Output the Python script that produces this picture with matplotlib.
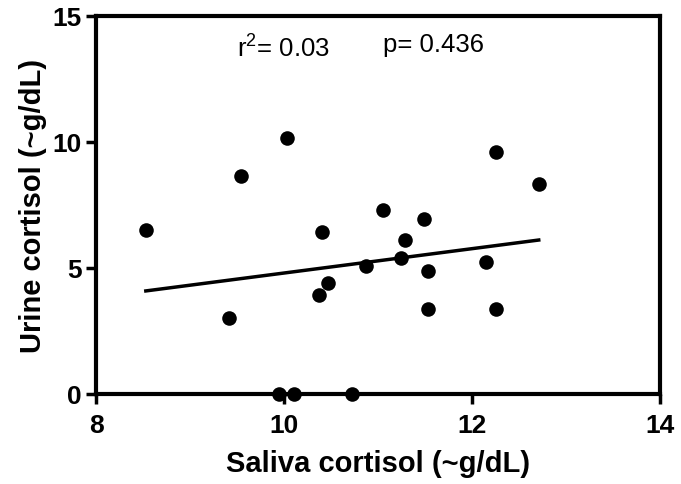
import numpy as np
import matplotlib
matplotlib.use("Agg")
import matplotlib.pyplot as plt

plt.rcParams['font.family'] = ['Liberation Sans', 'DejaVu Sans']
plt.rcParams['mathtext.fontset'] = 'custom'
plt.rcParams['mathtext.rm'] = 'Liberation Sans'
plt.rcParams['mathtext.it'] = 'Liberation Sans'

saliva = [8.53, 9.41, 9.54, 10.03, 9.95, 10.11, 10.40, 10.37, 10.47, 10.72, 10.87,
          11.05, 11.29, 11.49, 11.24, 11.53, 11.53, 12.15, 12.26, 12.26, 12.71]
urine = [6.51, 3.02, 8.65, 10.16, 0.0, 0.0, 6.43, 3.93, 4.40, 0.0, 5.07,
         7.31, 6.12, 6.94, 5.40, 4.89, 3.37, 5.23, 3.37, 9.59, 8.33]
fit_x = [8.53, 12.71]
fit_y = [4.09, 6.11]
x_ticks = [8, 10, 12, 14]
y_ticks = [0, 5, 10, 15]

fig = plt.figure(figsize=(6.81, 4.85), dpi=100)
ax = fig.add_axes([96/681, 1-395/485, (660-96)/681, (395-17)/485])

ax.plot(fit_x, fit_y, color='black', lw=2.5, zorder=2)
ax.scatter(saliva, urine, s=110, color='black', zorder=3, clip_on=False, linewidths=0)

ax.set_xlim(8, 14)
ax.set_ylim(0, 15)
ax.set_xticks(x_ticks)
ax.set_yticks(y_ticks)
for s in ax.spines.values():
    s.set_linewidth(3)
ax.tick_params(axis='both', width=2.5, length=7, labelsize=19)
ax.tick_params(axis='x', pad=7)
ax.tick_params(axis='y', pad=3)
for lab in ax.get_xticklabels() + ax.get_yticklabels():
    lab.set_fontweight('bold')

ax.set_xlabel('Saliva cortisol (~g/dL)', fontsize=21, fontweight='bold', labelpad=8)
ax.set_ylabel('Urine cortisol (~g/dL)', fontsize=21, fontweight='bold', labelpad=4)

ax.text(9.50, 13.37, r'r$^{2}$= 0.03', fontsize=18.5, ha='left', va='baseline')
ax.text(11.05, 13.61, 'p= 0.436', fontsize=18.5, ha='left', va='baseline')

fig.savefig('out.png', dpi=100)
